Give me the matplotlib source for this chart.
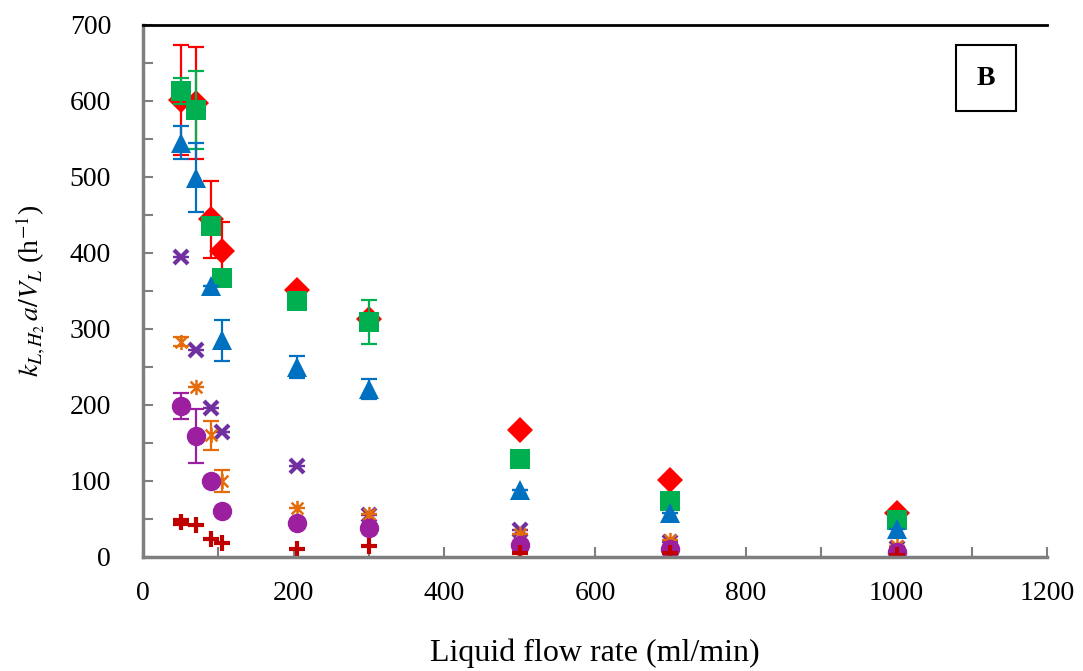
import matplotlib
matplotlib.use("Agg")
import matplotlib.pyplot as plt
from matplotlib.path import Path
from matplotlib.ticker import MultipleLocator

plt.rcParams['font.family'] = ['Liberation Serif', 'DejaVu Serif']
plt.rcParams['mathtext.fontset'] = 'stix'

# liquid flow rate (ml/min)
flow = [50, 70, 90, 105, 205, 300, 500, 700, 1000]

# kLa/VL (h^-1) for each series, with error bars (0 = none)
red_diamond = [601, 597, 444, 403, 351, 313, 167, 101, 58]
red_err = [72, 74, 51, 37, 0, 0, 0, 0, 0]
green_square = [613, 588, 435, 367, 337, 309, 129, 74, 49]
green_err = [17, 51, 0, 0, 0, 29, 0, 0, 0]
blue_triangle = [545, 499, 356, 285, 250, 221, 88, 58, 37]
blue_err = [22, 45, 0, 27, 14, 13, 0, 0, 0]
purple_x = [395, 272, 196, 165, 120, 55, 36, 20, 12]
purple_x_err = [0, 0, 0, 0, 0, 0, 0, 0, 0]
orange_star = [283, 224, 160, 100, 65, 57, 30, 22, 14]
orange_err = [6, 0, 19, 15, 0, 0, 0, 0, 0]
purple_circle = [198, 159, 100, 61, 44, 38, 16, 11, 7]
circle_err = [17, 35, 0, 0, 0, 0, 0, 0, 0]
red_plus = [46, 42, 23, 18, 11, 14, 5, 5, 3]
plus_err = [4, 0, 0, 0, 0, 0, 0, 0, 0]

# Excel style "*" marker: x with a vertical stroke
star = Path([(-1, -1), (1, 1), (-1, 1), (1, -1), (0, -1.3), (0, 1.3)],
            [Path.MOVETO, Path.LINETO, Path.MOVETO, Path.LINETO, Path.MOVETO, Path.LINETO])

series = [
    (red_diamond, red_err, '#FF0000', 'D', 13, 0),
    (green_square, green_err, '#00B050', 's', 15, 0),
    (blue_triangle, blue_err, '#0070C0', '^', 15, 0),
    (purple_x, purple_x_err, '#7030A0', 'x', 10, 3),
    (orange_star, orange_err, '#E46C0A', star, 11, 1.8),
    (purple_circle, circle_err, '#9C1FA0', 'o', 14, 0),
    (red_plus, plus_err, '#C00000', '+', 11, 3),
]

fig = plt.figure(figsize=(10.83, 6.71), dpi=100)
ax = fig.add_axes([0.132, 0.170, 0.835, 0.793])

for vals, err, col, mk, ms, mew in series:
    ax.errorbar(flow, vals, yerr=err, fmt='none', ecolor=col, elinewidth=1.6,
                capsize=6, capthick=1.6)
    ax.plot(flow, vals, linestyle='none', marker=mk, markersize=ms,
            color=col, markeredgewidth=mew)

ax.set_xlim(0, 1200)
ax.set_ylim(0, 700)
ax.xaxis.set_major_locator(MultipleLocator(200))
ax.xaxis.set_minor_locator(MultipleLocator(100))
ax.yaxis.set_major_locator(MultipleLocator(100))
ax.yaxis.set_minor_locator(MultipleLocator(50))

ax.spines['right'].set_visible(False)
ax.spines['top'].set_color('black')
ax.spines['top'].set_linewidth(2)
for side in ['left', 'bottom']:
    ax.spines[side].set_color('#7f7f7f')
    ax.spines[side].set_linewidth(2.5)

ax.tick_params(which='both', direction='in', color='#7f7f7f', width=1.5,
               length=7, labelsize=20)
ax.tick_params(axis='y', pad=23)
ax.tick_params(axis='x', pad=17)
ax.tick_params(top=False, right=False, which='both')

ax.set_xlabel("Liquid flow rate (ml/min)", fontsize=23, labelpad=24)
ax.set_ylabel(r"$k_{L,H_2}\,a/V_L$ (h$^{-1}$)", fontsize=20, labelpad=16)

ax.text(0.932, 0.900, "B", transform=ax.transAxes, fontsize=20, fontweight='bold',
        ha='center', va='center',
        bbox=dict(boxstyle='square,pad=0.75', facecolor='white', edgecolor='black', linewidth=1.5))

fig.savefig("out.png", dpi=100)
